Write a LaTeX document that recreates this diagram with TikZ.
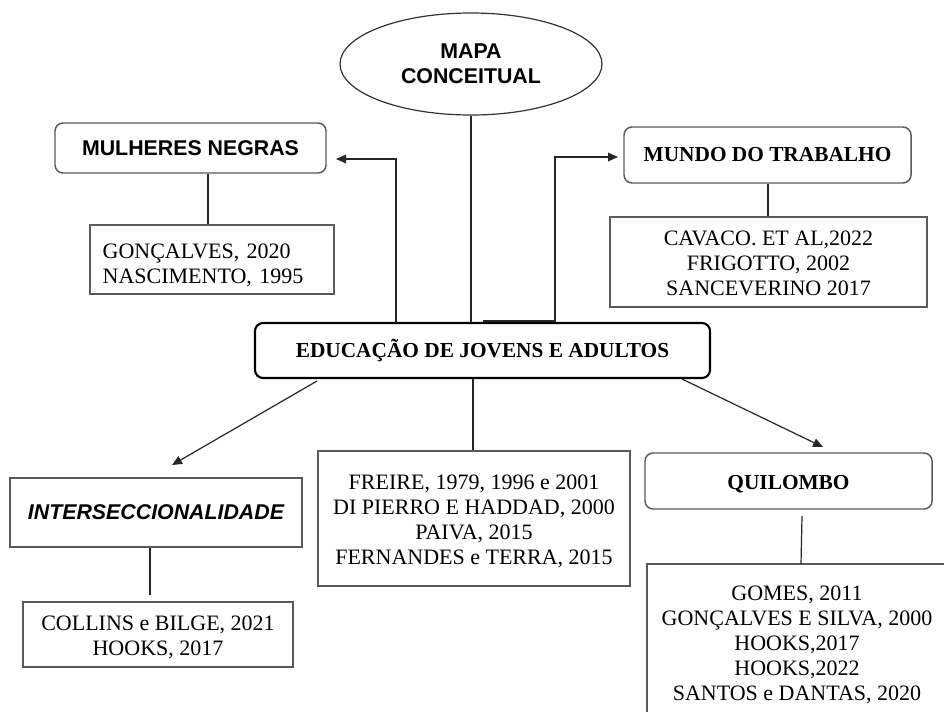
\documentclass[tikz,border=0pt]{standalone}
\usepackage{fontspec}
\setmainfont{Liberation Serif}
\setsansfont{Liberation Sans}
\usetikzlibrary{shapes.geometric,arrows.meta}
\definecolor{boxgray}{HTML}{5A5A5A}
\newcommand{\topup}{\rule{0pt}{15.5pt}}
\newcommand{\topupsm}{\rule{0pt}{13pt}}
\newcommand{\topupbig}{\rule{0pt}{20pt}}
\tikzset{
  base/.style={inner sep=0pt, align=center, font=\fontsize{16}{18.75}\selectfont},
  roundbox/.style={base, draw=boxgray, line width=1.1pt, rounded corners=6pt},
  plainbox/.style={base, draw=boxgray, line width=1.1pt, font=\fontsize{16.5}{18.75}\selectfont},
  mainbox/.style={base, draw=black, line width=1.6pt, rounded corners=6pt},
  conn/.style={draw=black!85, line width=0.9pt},
  arr/.style={conn, -{Triangle[length=7.5pt,width=6.5pt]}},
}
\begin{document}
\begin{tikzpicture}[x=0.75pt,y=-0.75pt]
\clip (0,0) rectangle (944,711);
\fill[white] (0,0) rectangle (944,711);

% nodes
\node[base, draw=black!80, line width=0.9pt, ellipse, minimum width=196.5pt, minimum height=76.5pt,
      font=\fontsize{16}{18.75}\selectfont\sffamily\bfseries] (ell) at (471,64) {MAPA\\CONCEITUAL};

\node[roundbox, minimum width=203.25pt, minimum height=37.5pt, font=\fontsize{16}{18.75}\selectfont\sffamily\bfseries]
  (mn) at (190.5,148) {MULHERES NEGRAS};
\node[plainbox, minimum width=183pt, minimum height=51.75pt, text width=164pt, align=left]
  (mnref) at (212,259.5) {\topupbig GONÇALVES, 2020\\NASCIMENTO, 1995};

\node[roundbox, minimum width=215.25pt, minimum height=42pt, font=\fontsize{16}{18.75}\selectfont\bfseries]
  (mt) at (767.5,155) {MUNDO DO TRABALHO};
\node[plainbox, minimum width=237.75pt, minimum height=67.5pt]
  (mtref) at (768.5,262) {\topupsm CAVACO. ET AL,2022\\FRIGOTTO, 2002\\SANCEVERINO 2017};

\node[mainbox, minimum width=341.25pt, minimum height=41.25pt, font=\fontsize{16}{18.75}\selectfont\bfseries]
  (eja) at (482.5,350.5) {EDUCAÇÃO DE JOVENS E ADULTOS};

\node[plainbox, minimum width=219pt, minimum height=51.75pt, font=\fontsize{16}{18.75}\selectfont\sffamily\bfseries\itshape]
  (inter) at (156,512.5) {INTERSECCIONALIDADE};
\node[plainbox, minimum width=202.5pt, minimum height=48.75pt]
  (col) at (158,634.5) {\topup COLLINS e BILGE, 2021\\HOOKS, 2017};

\node[plainbox, minimum width=234pt, minimum height=101.25pt]
  (mid) at (474,518.5) {\topup FREIRE, 1979, 1996 e 2001\\DI PIERRO E HADDAD, 2000\\PAIVA, 2015\\FERNANDES e TERRA, 2015};

\node[roundbox, minimum width=215.25pt, minimum height=42pt, font=\fontsize{16}{18.75}\selectfont\bfseries]
  (qui) at (788.5,481) {\topup QUILOMBO};
\node[plainbox, minimum width=225pt, minimum height=117pt]
  (quiref) at (797,642) {\topup GOMES, 2011\\GONÇALVES E SILVA, 2000\\HOOKS,2017\\HOOKS,2022\\SANTOS e DANTAS, 2020};

% connector end points
\coordinate (a0) at (396,323);
\coordinate (a1) at (336,159);
\coordinate (b0) at (483,321);
\coordinate (b1) at (555,321);
\coordinate (b2) at (618,157);
\coordinate (l0) at (317,381);
\coordinate (l1) at (172,465);
\coordinate (r0) at (682,379);
\coordinate (r1) at (823,447);
\coordinate (q0) at (802,516);
\coordinate (q1) at (801,564);
\coordinate (i1) at (150,595);
\coordinate (mx) at (208,0);
\coordinate (tx) at (768,0);
\coordinate (ex) at (473,0);

% connectors
\draw[conn] (ell.south) -- (ell.south |- eja.north);
\draw[arr] (a0) |- (a1);
\draw[arr] (b0) -- (b1) |- (b2);
\draw[conn] (mn.south -| mx) -- (mnref.north -| mx);
\draw[conn] (mt.south -| tx) -- (mtref.north -| tx);
\draw[conn] (eja.south -| ex) -- (mid.north -| ex);
\draw[arr] (l0) -- (l1);
\draw[arr] (r0) -- (r1);
\draw[conn] (inter.south -| i1) -- (i1);
\draw[conn] (q0) -- (q1);
\end{tikzpicture}
\end{document}
